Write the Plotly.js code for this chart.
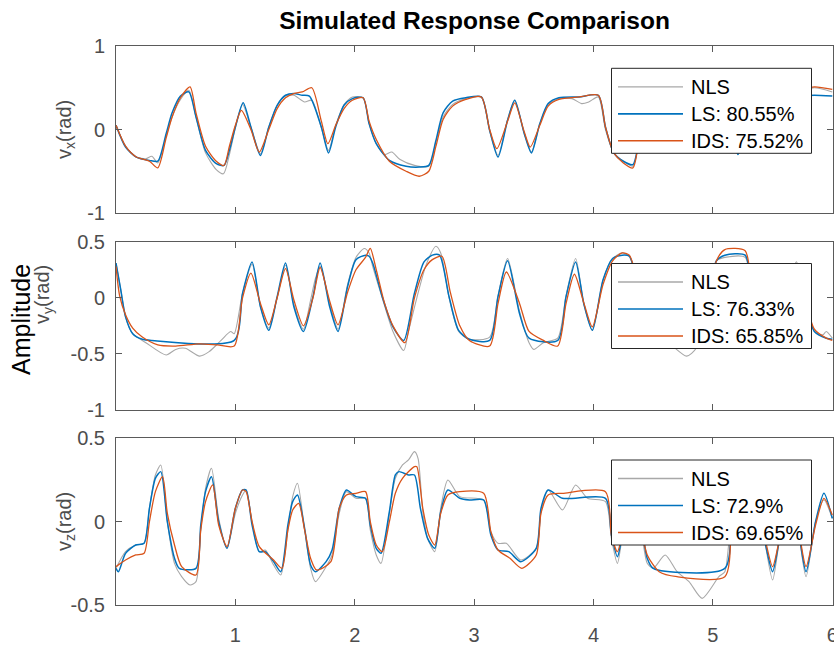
<!DOCTYPE html>
<html>
<head>
<meta charset="utf-8">
<script src="https://cdn.plot.ly/plotly-3.0.1.min.js"></script>
<style>
html,body{margin:0;padding:0;overflow:hidden;background:#fff;}
#chart{width:834px;height:646px;}
</style>
</head>
<body>
<div id="chart"></div>
<script>
// ---------- Panel 1 : v_x ----------
const vxNLS_t = [0,0.08,0.17,0.25,0.30,0.35,0.42,0.47,0.54,0.61,0.67,0.75,0.84,0.90,0.95,1.0,1.06,1.13,1.21,1.28,1.35,1.42,1.49,1.58,1.64,1.72,1.78,1.84,1.91,1.98,2.07,2.12,2.18,2.25,2.31,2.38,2.50,2.62,2.68,2.74,2.82,2.93,3.06,3.13,3.20,3.28,3.34,3.42,3.48,3.55,3.62,3.71,3.82,3.90,3.96,4.04,4.10,4.17,4.25,4.33,4.38,4.45,4.55,4.75,4.85,4.92,5.0,5.1,5.15,5.21,5.28,5.36,5.5,5.7,5.85,6.0];
const vxNLS   = [0.05,-0.20,-0.33,-0.35,-0.32,-0.40,-0.08,0.15,0.36,0.47,0.15,-0.28,-0.48,-0.53,-0.30,0.02,0.30,0.03,-0.29,0.03,0.29,0.40,0.41,0.33,0.35,0.02,-0.25,0.05,0.30,0.39,0.38,0.07,-0.17,-0.30,-0.27,-0.36,-0.43,-0.44,-0.15,0.15,0.30,0.37,0.39,-0.02,-0.31,0.12,0.35,-0.05,-0.27,0.07,0.30,0.37,0.37,0.31,0.33,0.39,0.0,-0.28,-0.38,-0.44,-0.15,0.18,0.32,0.37,0.08,-0.18,0.20,0.33,0.05,-0.28,0.05,0.30,0.40,0.45,0.50,0.45];
const vxLS_t  = [0,0.08,0.17,0.28,0.35,0.42,0.47,0.54,0.61,0.67,0.75,0.84,0.905,0.95,1.0,1.065,1.13,1.21,1.28,1.35,1.42,1.49,1.56,1.62,1.72,1.78,1.84,1.91,1.98,2.07,2.12,2.18,2.29,2.43,2.54,2.62,2.68,2.74,2.82,2.93,3.06,3.13,3.20,3.28,3.34,3.42,3.48,3.55,3.62,3.71,3.88,4.04,4.10,4.17,4.25,4.33,4.38,4.45,4.55,4.75,4.85,4.92,5.0,5.1,5.15,5.21,5.28,5.36,5.5,5.7,5.85,6.0];
const vxLS    = [0.05,-0.21,-0.33,-0.37,-0.38,-0.05,0.20,0.40,0.45,0.15,-0.25,-0.41,-0.43,-0.25,0.03,0.32,0.03,-0.31,0.03,0.29,0.41,0.43,0.41,0.40,0.03,-0.28,0.03,0.29,0.37,0.38,0.07,-0.17,-0.37,-0.44,-0.45,-0.43,-0.13,0.20,0.34,0.38,0.39,-0.01,-0.33,0.11,0.35,-0.05,-0.28,0.07,0.31,0.38,0.39,0.41,0.03,-0.28,-0.38,-0.42,-0.15,0.20,0.36,0.38,0.10,-0.15,0.20,0.35,0.05,-0.30,0.05,0.30,0.38,0.40,0.41,0.40];
const vxIDS_t = [0,0.08,0.17,0.28,0.35,0.42,0.47,0.54,0.62,0.67,0.75,0.84,0.905,0.95,1.0,1.05,1.13,1.20,1.28,1.35,1.42,1.49,1.56,1.64,1.72,1.775,1.84,1.91,1.98,2.07,2.12,2.18,2.29,2.43,2.54,2.62,2.68,2.74,2.82,2.93,3.06,3.13,3.19,3.28,3.34,3.42,3.47,3.55,3.62,3.71,3.88,4.04,4.10,4.17,4.25,4.33,4.38,4.45,4.55,4.75,4.85,4.92,5.0,5.1,5.15,5.21,5.28,5.36,5.5,5.7,5.85,6.0];
const vxIDS   = [0.05,-0.20,-0.33,-0.38,-0.46,-0.10,0.15,0.38,0.51,0.20,-0.20,-0.38,-0.43,-0.20,0.05,0.23,0.0,-0.27,0.0,0.25,0.38,0.43,0.45,0.50,0.10,-0.17,0.05,0.25,0.35,0.38,0.10,-0.12,-0.38,-0.50,-0.56,-0.50,-0.20,0.12,0.28,0.36,0.39,0.0,-0.23,0.10,0.32,-0.03,-0.21,0.05,0.28,0.36,0.39,0.41,0.03,-0.28,-0.40,-0.46,-0.15,0.18,0.34,0.38,0.12,-0.12,0.18,0.33,0.05,-0.26,0.05,0.30,0.40,0.46,0.51,0.48];

// ---------- Panel 2 : v_y ----------
const vyNLS_t = [0,0.04,0.08,0.14,0.25,0.42,0.50,0.58,0.70,0.78,0.88,0.96,0.99,1.06,1.14,1.21,1.28,1.35,1.42,1.49,1.57,1.63,1.67,1.71,1.79,1.86,1.94,2.01,2.08,2.12,2.15,2.23,2.32,2.41,2.45,2.52,2.60,2.68,2.72,2.79,2.87,2.96,3.13,3.20,3.28,3.38,3.46,3.50,3.58,3.70,3.77,3.85,3.92,3.99,4.08,4.16,4.24,4.30,4.40,4.50,4.65,4.78,4.86,4.97,5.03,5.10,5.27,5.33,5.42,5.52,5.60,5.70,5.77,5.85,5.92,5.95,6.0];
const vyNLS   = [0.31,0.07,-0.17,-0.32,-0.40,-0.51,-0.46,-0.45,-0.52,-0.48,-0.38,-0.30,-0.32,0.04,0.30,-0.08,-0.27,0.0,0.29,-0.06,-0.28,-0.02,0.17,0.28,-0.05,-0.28,0.12,0.36,0.44,0.40,0.28,0.0,-0.30,-0.47,-0.30,0.0,0.30,0.46,0.40,0.0,-0.30,-0.37,-0.35,0.02,0.35,-0.12,-0.40,-0.46,-0.40,-0.36,0.02,0.35,-0.06,-0.29,0.16,0.35,0.40,0.37,0.0,-0.30,-0.42,-0.52,-0.45,0.05,0.33,0.36,0.36,0.0,-0.30,-0.38,0.0,0.32,0.0,-0.30,-0.33,-0.30,-0.36];
const vyLS_t  = [0,0.04,0.08,0.14,0.22,0.30,0.99,1.06,1.14,1.21,1.28,1.35,1.42,1.49,1.57,1.65,1.71,1.79,1.86,1.94,2.01,2.09,2.12,2.15,2.23,2.32,2.41,2.50,2.58,2.65,2.71,2.79,2.87,2.96,3.13,3.20,3.28,3.38,3.46,3.70,3.77,3.85,3.92,3.99,4.08,4.16,4.24,4.30,4.40,4.50,4.65,4.90,4.97,5.03,5.10,5.27,5.33,5.42,5.52,5.60,5.70,5.77,5.85,5.95,6.0];
const vyLS    = [0.31,0.07,-0.17,-0.32,-0.37,-0.38,-0.38,0.04,0.32,-0.08,-0.29,0.01,0.31,-0.08,-0.30,0.01,0.31,-0.08,-0.30,0.10,0.34,0.38,0.37,0.31,0.01,-0.26,-0.38,0.04,0.32,0.38,0.38,0.01,-0.29,-0.37,-0.38,0.01,0.33,-0.14,-0.36,-0.38,0.01,0.32,-0.06,-0.29,0.16,0.35,0.38,0.37,0.0,-0.30,-0.38,-0.38,0.05,0.33,0.38,0.38,0.0,-0.30,-0.36,0.0,0.30,0.0,-0.30,-0.36,-0.37];
const vyIDS_t = [0,0.03,0.08,0.14,0.22,0.35,0.50,0.70,0.85,0.99,1.06,1.13,1.21,1.28,1.35,1.42,1.49,1.57,1.65,1.71,1.79,1.86,1.94,2.01,2.09,2.13,2.18,2.25,2.32,2.42,2.50,2.58,2.65,2.73,2.80,2.88,2.96,3.13,3.20,3.27,3.38,3.46,3.58,3.70,3.77,3.84,3.92,3.99,4.08,4.16,4.24,4.30,4.40,4.50,4.65,4.90,4.97,5.03,5.10,5.27,5.33,5.42,5.52,5.60,5.70,5.77,5.85,5.95,6.0];
const vyIDS   = [0.28,0.02,-0.15,-0.27,-0.35,-0.42,-0.43,-0.41,-0.42,-0.43,0.0,0.22,-0.05,-0.24,0.0,0.26,-0.02,-0.25,0.0,0.27,-0.03,-0.24,0.05,0.25,0.36,0.44,0.25,-0.05,-0.25,-0.40,0.0,0.25,0.34,0.37,0.05,-0.25,-0.38,-0.43,-0.05,0.23,-0.05,-0.30,-0.38,-0.43,-0.05,0.21,-0.05,-0.26,0.12,0.33,0.40,0.38,0.02,-0.28,-0.40,-0.42,0.0,0.33,0.43,0.42,0.03,-0.28,-0.38,-0.02,0.25,0.0,-0.28,-0.36,-0.38];

// ---------- Panel 3 : v_z ----------
const vzNLS_t = [0,0.08,0.165,0.235,0.28,0.33,0.375,0.43,0.49,0.55,0.62,0.67,0.71,0.75,0.80,0.86,0.93,1.0,1.06,1.09,1.14,1.20,1.25,1.32,1.38,1.44,1.48,1.52,1.58,1.63,1.67,1.76,1.81,1.87,1.93,2.01,2.09,2.13,2.18,2.22,2.29,2.34,2.40,2.45,2.50,2.53,2.57,2.61,2.67,2.72,2.78,2.88,3.08,3.14,3.20,3.27,3.39,3.52,3.56,3.62,3.74,3.85,3.95,4.10,4.15,4.20,4.25,4.32,4.38,4.45,4.50,4.60,4.70,4.80,4.91,5.05,5.10,5.16,5.22,5.36,5.43,5.50,5.56,5.63,5.70,5.78,5.86,5.93,6.0];
const vzNLS   = [-0.28,-0.18,-0.14,-0.13,0.08,0.28,0.34,0.0,-0.25,-0.33,-0.38,-0.36,-0.05,0.20,0.32,0.02,-0.16,0.05,0.16,0.19,0.0,-0.18,-0.17,-0.26,-0.32,-0.05,0.15,0.23,-0.05,-0.28,-0.36,-0.27,-0.20,0.05,0.18,0.14,0.14,-0.05,-0.20,-0.25,0.05,0.26,0.34,0.37,0.42,0.38,0.06,-0.10,-0.18,0.08,0.25,0.15,0.13,-0.06,-0.13,-0.13,-0.23,-0.16,0.06,0.19,0.07,0.22,0.14,0.12,-0.10,-0.25,-0.05,0.12,0.03,-0.25,-0.28,-0.20,-0.30,-0.36,-0.46,-0.33,-0.30,0.05,0.15,0.14,-0.10,-0.35,-0.10,0.10,0.0,-0.33,0.0,0.13,0.02];
const vzLS_t  = [0,0.02,0.08,0.165,0.235,0.28,0.33,0.375,0.43,0.49,0.53,0.67,0.71,0.75,0.80,0.86,0.93,1.0,1.06,1.09,1.14,1.20,1.25,1.32,1.38,1.44,1.48,1.52,1.58,1.63,1.67,1.76,1.81,1.87,1.93,2.01,2.09,2.13,2.18,2.22,2.29,2.34,2.37,2.45,2.50,2.55,2.61,2.67,2.72,2.78,2.88,2.96,3.08,3.14,3.20,3.29,3.39,3.52,3.56,3.62,3.74,4.10,4.15,4.20,4.25,4.32,4.38,4.45,4.50,5.10,5.16,5.22,5.36,5.43,5.50,5.56,5.63,5.70,5.78,5.86,5.93,6.0];
const vzLS    = [-0.28,-0.30,-0.19,-0.14,-0.13,0.08,0.26,0.30,0.0,-0.22,-0.28,-0.28,-0.02,0.18,0.27,0.0,-0.16,0.08,0.19,0.19,-0.02,-0.18,-0.18,-0.24,-0.30,-0.02,0.12,0.16,-0.04,-0.26,-0.30,-0.24,-0.17,0.08,0.19,0.15,0.14,-0.02,-0.16,-0.19,0.06,0.28,0.30,0.28,0.28,0.08,-0.10,-0.16,0.06,0.19,0.14,0.13,0.13,-0.08,-0.17,-0.18,-0.24,-0.16,0.08,0.19,0.14,0.14,-0.08,-0.21,-0.05,0.12,0.05,-0.22,-0.28,-0.28,0.05,0.15,0.14,-0.10,-0.30,-0.10,0.10,0.0,-0.30,0.0,0.17,0.02];
const vzIDS_t = [0,0.08,0.165,0.235,0.28,0.33,0.39,0.43,0.49,0.55,0.67,0.71,0.75,0.81,0.86,0.93,1.0,1.06,1.09,1.14,1.20,1.32,1.39,1.44,1.48,1.53,1.58,1.63,1.68,1.80,1.87,1.93,2.01,2.09,2.13,2.18,2.23,2.29,2.34,2.40,2.50,2.52,2.57,2.62,2.67,2.72,2.78,2.88,3.08,3.14,3.20,3.30,3.40,3.52,3.56,3.62,3.74,4.10,4.15,4.20,4.25,4.32,4.38,4.45,4.55,4.70,5.10,5.16,5.22,5.36,5.43,5.50,5.56,5.63,5.70,5.78,5.86,5.93,6.0];
const vzIDS   = [-0.27,-0.23,-0.20,-0.19,0.0,0.18,0.27,0.05,-0.14,-0.27,-0.32,-0.05,0.12,0.22,-0.02,-0.15,0.08,0.19,0.18,0.0,-0.15,-0.23,-0.28,-0.05,0.07,0.11,-0.05,-0.22,-0.29,-0.24,0.08,0.16,0.17,0.18,0.0,-0.14,-0.18,0.0,0.17,0.26,0.33,0.33,0.08,-0.08,-0.14,0.05,0.16,0.18,0.17,-0.06,-0.17,-0.22,-0.28,-0.20,0.05,0.16,0.17,0.18,-0.08,-0.18,-0.05,0.10,0.02,-0.20,-0.30,-0.33,-0.33,0.03,0.15,0.14,-0.08,-0.27,-0.10,0.08,0.0,-0.27,-0.02,0.14,0.04];

// legend labels per panel
const seriesNames  = ['NLS', 'LS: 80.55%', 'IDS: 75.52%'];
const seriesNames2 = ['NLS', 'LS: 76.33%', 'IDS: 65.85%'];
const seriesNames3 = ['NLS', 'LS: 72.9%', 'IDS: 69.65%'];
const xTicks = [1, 2, 3, 4, 5, 6];
const yTicks1 = [-1, 0, 1], yTickText1 = ['-1', '0', '1'];
const yTicks2 = [-1, -0.5, 0, 0.5], yTickText2 = ['-1', '-0.5', '0', '0.5'];
const yTicks3 = [-0.5, 0, 0.5], yTickText3 = ['-0.5', '0', '0.5'];

const cGray = '#a8a8a8', cBlue = '#0072BD', cOrange = '#D95319';
const colors = [cGray, cBlue, cOrange];
const widths = [1.1, 1.5, 1.3];
function tr(x, y, name, i, xa, ya) {
  return {x: x, y: y, name: name, type: 'scatter', mode: 'lines',
          line: {color: colors[i], width: widths[i], shape: 'spline', smoothing: 0.7},
          xaxis: xa, yaxis: ya, showlegend: false, hoverinfo: 'skip'};
}
const data = [
  tr(vxNLS_t, vxNLS, seriesNames[0], 0, 'x', 'y'),
  tr(vxLS_t, vxLS, seriesNames[1], 1, 'x', 'y'),
  tr(vxIDS_t, vxIDS, seriesNames[2], 2, 'x', 'y'),
  tr(vyNLS_t, vyNLS, seriesNames2[0], 0, 'x2', 'y2'),
  tr(vyLS_t, vyLS, seriesNames2[1], 1, 'x2', 'y2'),
  tr(vyIDS_t, vyIDS, seriesNames2[2], 2, 'x2', 'y2'),
  tr(vzNLS_t, vzNLS, seriesNames3[0], 0, 'x3', 'y3'),
  tr(vzLS_t, vzLS, seriesNames3[1], 1, 'x3', 'y3'),
  tr(vzIDS_t, vzIDS, seriesNames3[2], 2, 'x3', 'y3')
];

const FONT = 'Liberation Sans, Arial, Helvetica, sans-serif';
const axCol = '#5a5a5a';
const W = 834, H = 646, ML = 116, MR = 1, MT = 46, MB = 41;
const PW = W - ML - MR, PH = H - MT - MB;
const px = v => (v - ML) / PW;          // pixel -> paper x
const py = v => (H - MB - v) / PH;      // pixel -> paper y

function xax(anchor, labels) {
  return {domain: [0, 1], anchor: anchor, range: [0, 6.006], tickvals: xTicks, ticktext: xTicks.map(String),
          showticklabels: labels, ticks: 'inside', ticklen: 6, tickcolor: axCol, tickwidth: 1,
          showline: true, linecolor: axCol, linewidth: 1, mirror: 'ticks', showgrid: false, zeroline: false,
          ticklabeloverflow: 'allow', automargin: false,
          ticklabelstandoff: 12, tickfont: {family: FONT, size: 20, color: '#4d4d4d'}};
}
function yax(anchor, top, bottom, rng, vals, txt) {
  return {domain: [py(bottom), py(top)], anchor: anchor, range: rng, tickvals: vals, ticktext: txt,
          ticks: 'inside', ticklen: 6, tickcolor: axCol, tickwidth: 1,
          showline: true, linecolor: axCol, linewidth: 1, mirror: 'ticks', showgrid: false, zeroline: false,
          automargin: false,
          ticklabelstandoff: 6, tickfont: {family: FONT, size: 20, color: '#4d4d4d'}};
}

// custom legend boxes (one per panel)
const shapes = [], annotations = [];
function legendBox(top, names) {
  shapes.push({type: 'rect', xref: 'paper', yref: 'paper', layer: 'above',
               x0: px(611.5), x1: px(811.5), y0: py(top), y1: py(top + 85),
               line: {color: '#262626', width: 1}, fillcolor: '#ffffff'});
  const rows = [18.5, 45.5, 72.5];
  names.forEach((nm, i) => {
    shapes.push({type: 'line', xref: 'paper', yref: 'paper', layer: 'above',
                 x0: px(618), x1: px(683), y0: py(top + rows[i]), y1: py(top + rows[i]),
                 line: {color: colors[i], width: widths[i] + 0.2}});
    annotations.push({text: nm, xref: 'paper', yref: 'paper', x: px(689), y: py(top + rows[i]),
                      xanchor: 'left', yanchor: 'middle', showarrow: false,
                      font: {family: FONT, size: 20, color: '#000'}});
  });
}
legendBox(68.3, seriesNames);
legendBox(263.5, seriesNames2);
legendBox(460, seriesNames3);

annotations.push(
  {text: 'Amplitude', xref: 'paper', yref: 'paper', x: 0, xanchor: 'center', xshift: 21 - ML, y: py(320),
   yanchor: 'middle', textangle: -90, showarrow: false, font: {family: FONT, size: 25, color: '#000'}},
  {text: 'v<sub>x</sub>(rad)', xref: 'paper', yref: 'paper', x: 0, xanchor: 'center', xshift: 65 - ML, y: py(130),
   yanchor: 'middle', textangle: -90, showarrow: false, font: {family: FONT, size: 20, color: '#4d4d4d'}},
  {text: 'v<sub>y</sub>(rad)', xref: 'paper', yref: 'paper', x: 0, xanchor: 'center', xshift: 43 - ML, y: py(295),
   yanchor: 'middle', textangle: -90, showarrow: false, bgcolor: '#ffffff', borderpad: 0,
   font: {family: FONT, size: 20, color: '#4d4d4d'}},
  {text: 'v<sub>z</sub>(rad)', xref: 'paper', yref: 'paper', x: 0, xanchor: 'center', xshift: 65 - ML, y: py(522),
   yanchor: 'middle', textangle: -90, showarrow: false, font: {family: FONT, size: 20, color: '#4d4d4d'}}
);

const layout = {
  width: W, height: H,
  margin: {l: ML, r: MR, t: MT, b: MB},
  paper_bgcolor: '#fff', plot_bgcolor: '#fff',
  title: {text: '<b>Simulated Response Comparison</b>', font: {family: FONT, size: 24.5, color: '#000'},
          x: 0.5, xref: 'paper', y: 1 - 20 / H, yref: 'container', yanchor: 'middle'},
  xaxis: xax('y', false),
  xaxis2: xax('y2', false),
  xaxis3: xax('y3', true),
  yaxis: yax('x', 46, 213, [-1, 1], yTicks1, yTickText1),
  yaxis2: yax('x2', 241.7, 410, [-1, 0.5], yTicks2, yTickText2),
  yaxis3: yax('x3', 438.3, 605, [-0.5, 0.5], yTicks3, yTickText3),
  showlegend: false,
  shapes: shapes,
  annotations: annotations
};
Plotly.newPlot('chart', data, layout, {staticPlot: true, displayModeBar: false});
</script>
</body>
</html>
